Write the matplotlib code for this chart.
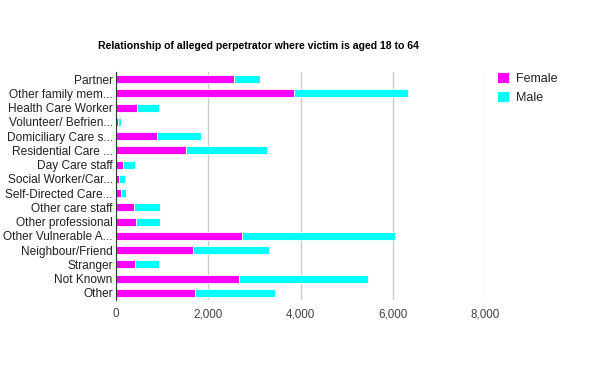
import numpy as np
import matplotlib

matplotlib.use("Agg")
import matplotlib.pyplot as plt
from matplotlib.ticker import FuncFormatter

matplotlib.rcParams["font.family"] = ["Liberation Sans", "DejaVu Sans"]

# 関係者カテゴリ(上から順)
categories = ["Partner", "Other family mem...", "Health Care Worker",
              "Volunteer/ Befrien...", "Domiciliary Care s...",
              "Residential Care ...", "Day Care staff", "Social Worker/Car...",
              "Self-Directed Care...", "Other care staff",
              "Other professional", "Other Vulnerable A...",
              "Neighbour/Friend", "Stranger", "Not Known", "Other"]
female = [2560, 3860, 460, 50, 900, 1525, 155, 75, 120, 405, 445, 2740,
          1675, 420, 2670, 1720]
male = [565, 2460, 480, 70, 950, 1750, 265, 130, 105, 555, 515, 3305,
        1645, 520, 2780, 1730]
x_ticks = [0, 2000, 4000, 6000, 8000]

fig = plt.figure(figsize=(6.0, 3.71), dpi=100)
ax = fig.add_axes([0.1925, 0.1914, 0.6167, 0.6146])

y = np.arange(len(categories))
h = 0.55
ax.barh(y, female, height=h, color="#ff00ff", edgecolor="white",
        linewidth=0.6, label="Female", zorder=3)
ax.barh(y, male, left=female, height=h, color="#00ffff", edgecolor="white",
        linewidth=0.6, label="Male", zorder=3)

ax.set_ylim(len(categories) - 0.5, -0.5)
ax.set_xlim(0, 8000)
ax.set_yticks(y)
ax.set_yticklabels(categories, fontsize=8.6, color="#222222")
ax.set_xticks(x_ticks)
ax.xaxis.set_major_formatter(FuncFormatter(lambda v, _: f"{int(v):,}"))
ax.tick_params(axis="x", labelsize=8.4, labelcolor="#444444", length=0, pad=6)
ax.tick_params(axis="y", length=0, pad=2)
ax.grid(axis="x", color="#cccccc", lw=1, zorder=0)
for s in ["top", "right", "bottom"]:
    ax.spines[s].set_visible(False)
ax.spines["left"].set_color("#333333")
ax.spines["left"].set_zorder(4)

fig.text(0.43, 0.876, "Relationship of alleged perpetrator where victim is aged 18 to 64",
         ha="center", va="center", fontsize=7.6, fontweight="bold")

leg = ax.legend(loc="upper left", bbox_to_anchor=(1.0, 1.05), frameon=False,
                fontsize=9, handlelength=1.0, handleheight=1.0,
                handletextpad=0.5, labelspacing=0.5)
for t in leg.get_texts():
    t.set_color("#222222")

fig.savefig("out.png", dpi=100)
